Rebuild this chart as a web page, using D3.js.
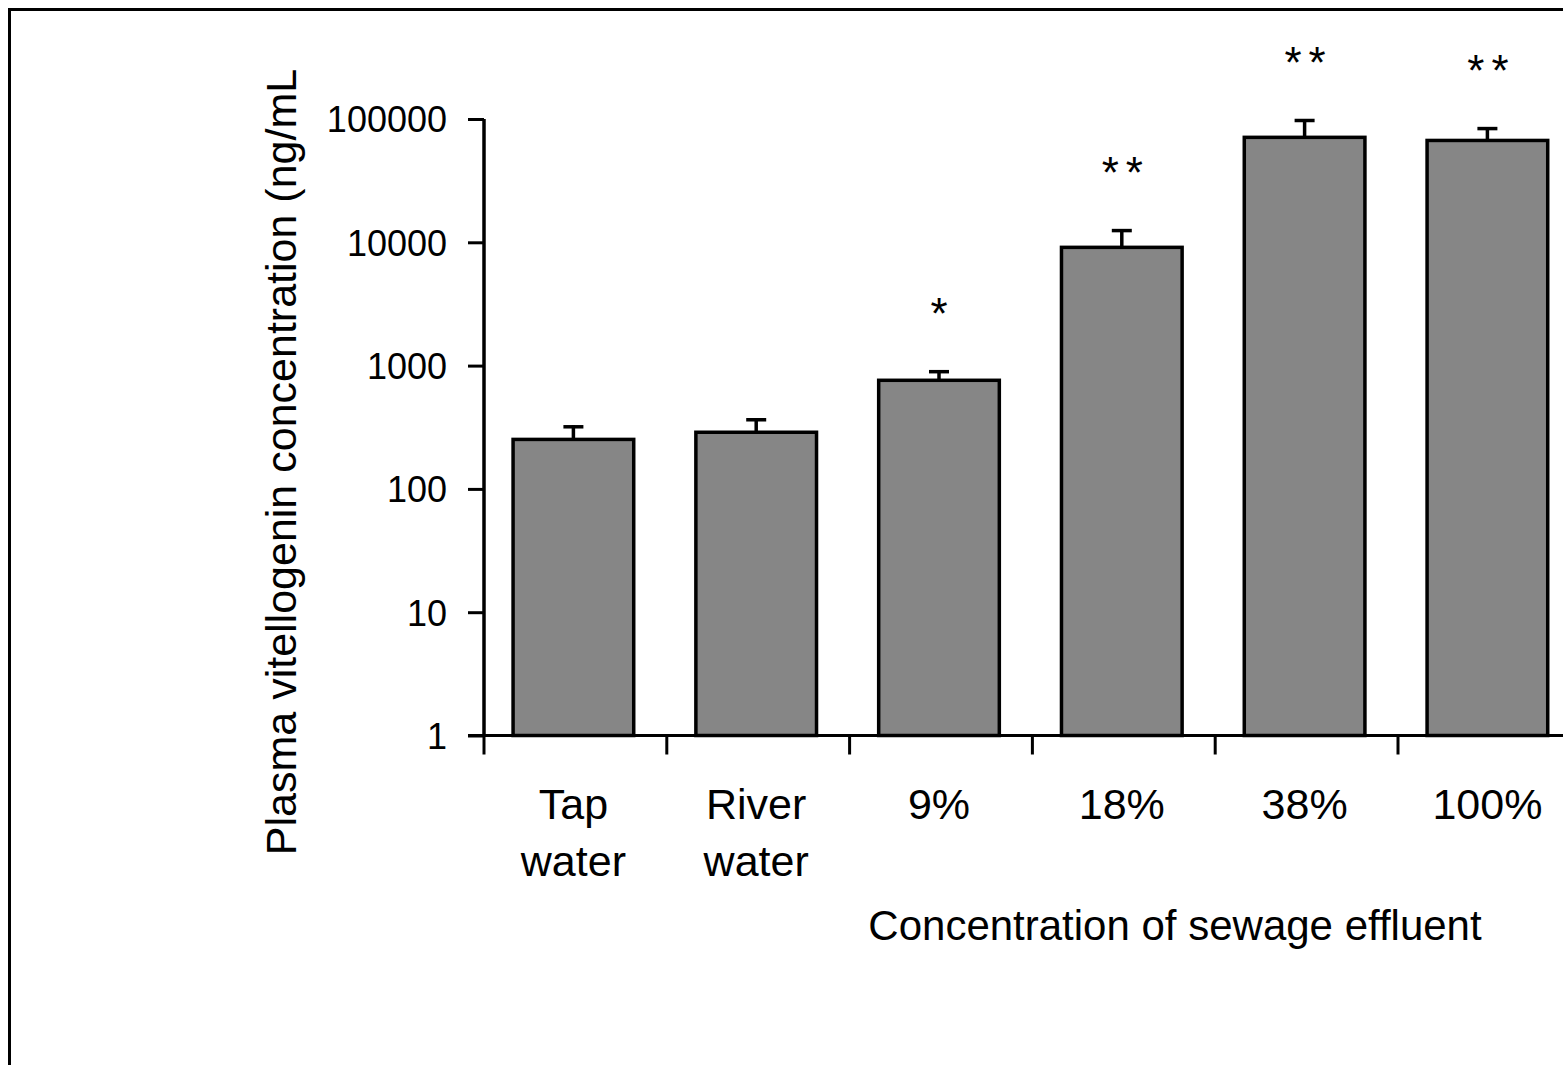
<!DOCTYPE html>
<html><head><meta charset="utf-8">
<script src="https://cdn.jsdelivr.net/npm/d3@7"></script>
<style>
html,body{margin:0;padding:0;background:#fff;}
svg{display:block;}
text{font-family:"Liberation Sans",Arial,sans-serif;fill:#000;}
</style></head>
<body>
<svg id="chart" width="1563" height="1065"></svg>
<script>
const categories = [["Tap","water"],["River","water"],["9%"],["18%"],["38%"],["100%"]];
const means = [252, 288, 760, 9100, 71000, 67000];
const sem = [76, 86, 158, 3700, 29000, 19000];
const significance = ["", "", "*", "**", "**", "**"];
const yTicks = [1, 10, 100, 1000, 10000, 100000];
const yTitle = "Plasma vitellogenin concentration (ng/mL";
const xTitle = "Concentration of sewage effluent";

const svg = d3.select("#chart");
// outer frame
svg.append("rect").attr("x",9.5).attr("y",9.5).attr("width",1700).attr("height",1200)
  .attr("fill","none").attr("stroke","#000").attr("stroke-width",3);

const x0 = 484, step = 182.8;
const x = d3.scaleBand().domain(d3.range(categories.length)).range([x0, x0 + step*categories.length]).padding(0);
const y = d3.scaleLog().domain([1, 100000]).range([735.5, 119]);
const barW = step*0.66;
const cxOf = i => x(i) + x.bandwidth()/2 - 2;

const g = svg.append("g");

// bars
g.selectAll("rect.bar").data(means).join("rect").attr("class","bar")
  .attr("x",(d,i)=>cxOf(i)-barW/2)
  .attr("y",d=>y(d))
  .attr("width",barW)
  .attr("height",d=>y(1)-y(d))
  .attr("fill","#868686").attr("stroke","#000").attr("stroke-width",3.5);

// error bars
means.forEach((m,i)=>{
  const cx = cxOf(i);
  g.append("line").attr("x1",cx).attr("x2",cx).attr("y1",y(m)).attr("y2",y(m+sem[i]))
    .attr("stroke","#000").attr("stroke-width",3.5);
  g.append("line").attr("x1",cx-10).attr("x2",cx+10).attr("y1",y(m+sem[i])+1.5).attr("y2",y(m+sem[i])+1.5)
    .attr("stroke","#000").attr("stroke-width",3.5);
  if(significance[i]){
    g.append("text").attr("x",cx+(significance[i].length>1?4:0)).attr("y",y(m+sem[i])-41)
      .attr("text-anchor","middle").attr("font-size",44)
      .attr("letter-spacing",significance[i].length>1?7:0)
      .text(significance[i]);
  }
});

// y axis
const yAxis = d3.axisLeft(y).tickValues(yTicks).tickFormat(d3.format("d")).tickSize(16).tickPadding(21);
const ya = svg.append("g").attr("transform",`translate(${x0},0)`).call(yAxis);
ya.select(".domain").attr("stroke-width",3.5).attr("d",`M0,${y(100000)}V${y(1)}`);
ya.selectAll(".tick line").attr("stroke-width",3);
ya.selectAll(".tick text").attr("font-size",36).attr("font-family","Liberation Sans, Arial, sans-serif").attr("dy","0.36em");

// x axis
const xa = svg.append("g");
xa.append("line").attr("x1",x0-16).attr("x2",1600).attr("y1",y(1)).attr("y2",y(1)).attr("stroke","#000").attr("stroke-width",3);
d3.range(categories.length).forEach(i=>{
  xa.append("line").attr("x1",x(i)).attr("x2",x(i)).attr("y1",y(1)).attr("y2",y(1)+19).attr("stroke","#000").attr("stroke-width",3);
});
categories.forEach((lines,i)=>{
  const t = xa.append("text").attr("text-anchor","middle").attr("font-size",43)
    .attr("x",cxOf(i)).attr("y",819);
  lines.forEach((l,j)=>t.append("tspan").attr("x",cxOf(i)).attr("dy",j?57:0).text(l));
});

// titles
svg.append("text").attr("x",1175).attr("y",940).attr("text-anchor","middle").attr("font-size",42).text(xTitle);
svg.append("text").attr("transform","translate(296,462) rotate(-90)").attr("text-anchor","middle").attr("font-size",43).text(yTitle);
</script>
</body></html>
